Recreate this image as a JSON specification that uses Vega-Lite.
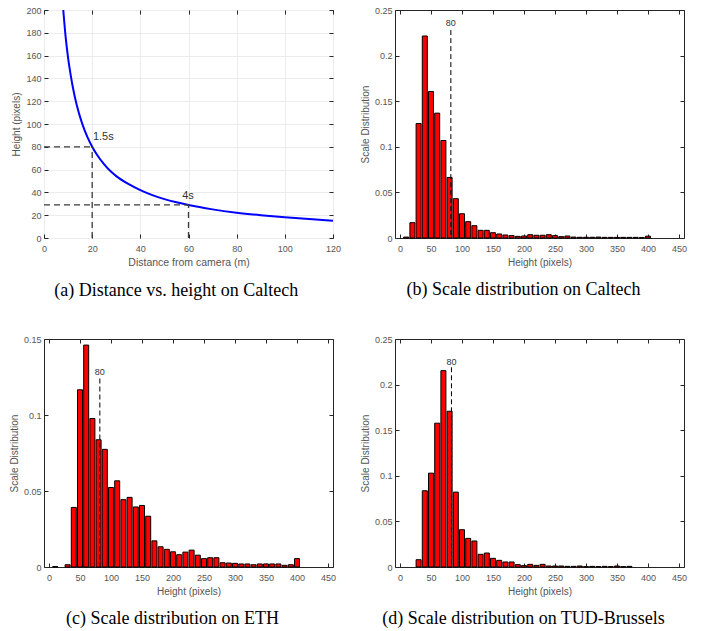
{
  "$schema": "https://vega.github.io/schema/vega-lite/v6.json",
  "padding": {"left": 8, "top": 5, "right": 5, "bottom": 5},
  "background": "white",
  "columns": 2,
  "bounds": "flush",
  "spacing": {"row": 101, "column": 62},
  "config": {
    "view": {"stroke": "#262626", "strokeWidth": 1},
    "font": "Liberation Sans",
    "axis": {
      "labelFont": "Liberation Sans", "labelFontSize": 9, "labelColor": "#555555",
      "titleFont": "Liberation Sans", "titleFontSize": 10, "titleFontWeight": "normal", "titleColor": "#555555",
      "domain": false, "tickColor": "#262626", "tickSize": -4, "tickWidth": 1,
      "grid": false, "titlePadding": 4, "labelFlush": false, "labelOverlap": false
    },
    "axisX": {"labelPadding": 10},
    "axisY": {"labelPadding": 7},
    "title": {"font": "Liberation Serif", "fontSize": 18, "fontWeight": "normal", "color": "#000000", "orient": "bottom", "frame": "bounds", "anchor": "middle", "offset": 14}
  },
  "datasets": {
    "curveA": [
      {"distance": 8, "height": 200}, {"distance": 9, "height": 176}, {"distance": 10, "height": 158},
      {"distance": 11, "height": 144}, {"distance": 12, "height": 132}, {"distance": 13, "height": 122},
      {"distance": 14, "height": 113.4}, {"distance": 15, "height": 106}, {"distance": 16, "height": 99.5},
      {"distance": 18, "height": 88.7}, {"distance": 20, "height": 80}, {"distance": 22, "height": 73},
      {"distance": 25, "height": 64.6}, {"distance": 28, "height": 57.8}, {"distance": 30, "height": 54.3},
      {"distance": 35, "height": 47.4}, {"distance": 40, "height": 42}, {"distance": 45, "height": 37.6},
      {"distance": 50, "height": 34.1}, {"distance": 55, "height": 31.3}, {"distance": 60, "height": 28.9},
      {"distance": 70, "height": 25.1}, {"distance": 80, "height": 22.2}, {"distance": 90, "height": 20},
      {"distance": 100, "height": 18.2}, {"distance": 110, "height": 16.6}, {"distance": 120, "height": 15.2}
    ],
    "segsA": [
      {"x1": 0, "x2": 20, "y1": 80, "y2": 80},
      {"x1": 20, "x2": 20, "y1": 0, "y2": 80},
      {"x1": 0, "x2": 60, "y1": 29, "y2": 29},
      {"x1": 60, "x2": 60, "y1": 0, "y2": 29}
    ],
    "labelsA": [
      {"x": 20.3, "y": 89, "label": "1.5s"},
      {"x": 57.4, "y": 37, "label": "4s"}
    ],
    "histB": [
      {"h": 10, "p": 0.001}, {"h": 20, "p": 0.0168}, {"h": 30, "p": 0.1255}, {"h": 40, "p": 0.2215},
      {"h": 50, "p": 0.1606}, {"h": 60, "p": 0.1369}, {"h": 70, "p": 0.1069}, {"h": 80, "p": 0.0664},
      {"h": 90, "p": 0.0431}, {"h": 100, "p": 0.0266}, {"h": 110, "p": 0.0179}, {"h": 120, "p": 0.0135},
      {"h": 130, "p": 0.0084}, {"h": 140, "p": 0.0084}, {"h": 150, "p": 0.0058}, {"h": 160, "p": 0.0044},
      {"h": 170, "p": 0.0033}, {"h": 180, "p": 0.0026}, {"h": 190, "p": 0.0018}, {"h": 200, "p": 0.0022},
      {"h": 210, "p": 0.0036}, {"h": 220, "p": 0.003}, {"h": 230, "p": 0.003}, {"h": 240, "p": 0.0036},
      {"h": 250, "p": 0.0026}, {"h": 260, "p": 0.0015}, {"h": 270, "p": 0.0022}, {"h": 280, "p": 0.001},
      {"h": 290, "p": 0.0008}, {"h": 300, "p": 0.0008}, {"h": 310, "p": 0.0008}, {"h": 320, "p": 0.001},
      {"h": 330, "p": 0.0007}, {"h": 340, "p": 0.0007}, {"h": 350, "p": 0.0007}, {"h": 360, "p": 0.0007},
      {"h": 370, "p": 0.0007}, {"h": 380, "p": 0.0007}, {"h": 390, "p": 0.0005}, {"h": 400, "p": 0.002}
    ],
    "histC": [
      {"h": 10, "p": 0.0003}, {"h": 30, "p": 0.0015}, {"h": 40, "p": 0.0392}, {"h": 50, "p": 0.1166},
      {"h": 60, "p": 0.146}, {"h": 70, "p": 0.0977}, {"h": 80, "p": 0.0837}, {"h": 90, "p": 0.0774},
      {"h": 100, "p": 0.0523}, {"h": 110, "p": 0.0567}, {"h": 120, "p": 0.0443}, {"h": 130, "p": 0.0458},
      {"h": 140, "p": 0.0395}, {"h": 150, "p": 0.0405}, {"h": 160, "p": 0.0334}, {"h": 170, "p": 0.0172},
      {"h": 180, "p": 0.0133}, {"h": 190, "p": 0.0116}, {"h": 200, "p": 0.01}, {"h": 210, "p": 0.0081},
      {"h": 220, "p": 0.0098}, {"h": 230, "p": 0.0111}, {"h": 240, "p": 0.0078}, {"h": 250, "p": 0.0055},
      {"h": 260, "p": 0.0061}, {"h": 270, "p": 0.0061}, {"h": 280, "p": 0.0028}, {"h": 290, "p": 0.0026},
      {"h": 300, "p": 0.0024}, {"h": 310, "p": 0.002}, {"h": 320, "p": 0.002}, {"h": 330, "p": 0.0015},
      {"h": 340, "p": 0.002}, {"h": 350, "p": 0.002}, {"h": 360, "p": 0.002}, {"h": 370, "p": 0.002},
      {"h": 380, "p": 0.0011}, {"h": 390, "p": 0.0015}, {"h": 400, "p": 0.0055}
    ],
    "histD": [
      {"h": 30, "p": 0.008}, {"h": 40, "p": 0.0836}, {"h": 50, "p": 0.1029}, {"h": 60, "p": 0.1577},
      {"h": 70, "p": 0.2153}, {"h": 80, "p": 0.1708}, {"h": 90, "p": 0.0821}, {"h": 100, "p": 0.0409},
      {"h": 110, "p": 0.0314}, {"h": 120, "p": 0.0285}, {"h": 130, "p": 0.0139}, {"h": 140, "p": 0.0153},
      {"h": 150, "p": 0.0095}, {"h": 160, "p": 0.0073}, {"h": 170, "p": 0.0055}, {"h": 180, "p": 0.0055},
      {"h": 190, "p": 0.0026}, {"h": 200, "p": 0.0015}, {"h": 210, "p": 0.0029}, {"h": 220, "p": 0.0018},
      {"h": 230, "p": 0.0029}, {"h": 240, "p": 0.0011}, {"h": 250, "p": 0.0011}, {"h": 260, "p": 0.0011},
      {"h": 270, "p": 0.0007}, {"h": 280, "p": 0.0007}, {"h": 290, "p": 0.0011}, {"h": 300, "p": 0.0004},
      {"h": 310, "p": 0.0007}, {"h": 320, "p": 0.0004}, {"h": 330, "p": 0.0007}, {"h": 340, "p": 0.0004},
      {"h": 350, "p": 0.0011}, {"h": 360, "p": 0.0004}, {"h": 370, "p": 0.0007}
    ],
    "markB": [{"x": 82, "top": 0.228, "ly": 0.236, "label": "80"}],
    "markC": [{"x": 82, "top": 0.124, "ly": 0.1286, "label": "80"}],
    "markD": [{"x": 83, "top": 0.219, "ly": 0.2245, "label": "80"}]
  },
  "concat": [
    {
      "width": 289, "height": 228,
      "title": {"text": "(a) Distance vs. height on Caltech"},
      "resolve": {"axis": {"x": "independent", "y": "independent"}},
      "layer": [
        {
          "data": {"name": "curveA"},
          "mark": {"type": "line", "color": "#0000ff", "strokeWidth": 2, "interpolate": "monotone", "clip": true},
          "encoding": {
            "x": {"field": "distance", "type": "quantitative", "scale": {"domain": [0, 120], "nice": false},
                  "axis": {"orient": "bottom", "title": "Distance from camera (m)", "titleFontSize": 10.5, "values": [0, 20, 40, 60, 80, 100, 120], "grid": true, "gridColor": "#ebebeb"}},
            "y": {"field": "height", "type": "quantitative", "scale": {"domain": [0, 200], "nice": false},
                  "axis": {"orient": "left", "title": "Height (pixels)", "values": [0, 20, 40, 60, 80, 100, 120, 140, 160, 180, 200], "grid": true, "gridColor": "#ebebeb"}}
          }
        },
        {
          "data": {"name": "segsA"},
          "mark": {"type": "rule", "color": "#3a3a3a", "strokeDash": [6, 4], "strokeWidth": 1.3},
          "encoding": {
            "x": {"field": "x1", "type": "quantitative", "axis": {"orient": "top", "labels": false, "title": null, "values": [0, 20, 40, 60, 80, 100, 120]}},
            "x2": {"field": "x2"},
            "y": {"field": "y1", "type": "quantitative", "axis": {"orient": "right", "labels": false, "title": null, "values": [0, 20, 40, 60, 80, 100, 120, 140, 160, 180, 200]}},
            "y2": {"field": "y2"}
          }
        },
        {
          "data": {"name": "labelsA"},
          "mark": {"type": "text", "align": "left", "baseline": "middle", "fontSize": 11, "color": "#333333", "font": "Liberation Sans"},
          "encoding": {
            "x": {"field": "x", "type": "quantitative", "axis": null},
            "y": {"field": "y", "type": "quantitative", "axis": null},
            "text": {"field": "label"}
          }
        }
      ]
    },
    {
      "width": 289, "height": 228,
      "title": {"text": "(b) Scale distribution on Caltech"},
      "resolve": {"axis": {"x": "independent", "y": "independent"}},
      "layer": [
        {
          "data": {"name": "histB"},
          "mark": {"type": "bar", "color": "#ff0000", "stroke": "#000000", "strokeWidth": 1, "width": 5},
          "encoding": {
            "x": {"field": "h", "type": "quantitative", "scale": {"domain": [0, 450], "nice": false},
                  "axis": {"orient": "bottom", "title": "Height (pixels)", "values": [0, 50, 100, 150, 200, 250, 300, 350, 400, 450]}},
            "y": {"field": "p", "type": "quantitative", "scale": {"domain": [0, 0.25], "nice": false},
                  "axis": {"orient": "left", "title": "Scale Distribution", "values": [0, 0.05, 0.1, 0.15, 0.2, 0.25], "format": ".2~f"}}
          }
        },
        {
          "data": {"name": "markB"},
          "mark": {"type": "rule", "color": "#000000", "strokeDash": [5, 3], "strokeWidth": 1},
          "encoding": {
            "x": {"field": "x", "type": "quantitative", "axis": {"orient": "top", "labels": false, "title": null, "values": [0, 50, 100, 150, 200, 250, 300, 350, 400, 450]}},
            "y": {"field": "top", "type": "quantitative", "axis": {"orient": "right", "labels": false, "title": null, "values": [0, 0.05, 0.1, 0.15, 0.2, 0.25]}},
            "y2": {"datum": 0}
          }
        },
        {
          "data": {"name": "markB"},
          "mark": {"type": "text", "align": "center", "baseline": "middle", "fontSize": 9, "color": "#333333", "font": "Liberation Sans"},
          "encoding": {
            "x": {"field": "x", "type": "quantitative", "axis": null},
            "y": {"field": "ly", "type": "quantitative", "axis": null},
            "text": {"field": "label"}
          }
        }
      ]
    },
    {
      "width": 289, "height": 228,
      "title": {"text": "(c) Scale distribution on ETH"},
      "resolve": {"axis": {"x": "independent", "y": "independent"}},
      "layer": [
        {
          "data": {"name": "histC"},
          "mark": {"type": "bar", "color": "#ff0000", "stroke": "#000000", "strokeWidth": 1, "width": 5},
          "encoding": {
            "x": {"field": "h", "type": "quantitative", "scale": {"domain": [0, 450], "nice": false},
                  "axis": {"orient": "bottom", "title": "Height (pixels)", "values": [0, 50, 100, 150, 200, 250, 300, 350, 400, 450]}},
            "y": {"field": "p", "type": "quantitative", "scale": {"domain": [0, 0.15], "nice": false},
                  "axis": {"orient": "left", "title": "Scale Distribution", "values": [0, 0.05, 0.1, 0.15], "format": ".2~f"}}
          }
        },
        {
          "data": {"name": "markC"},
          "mark": {"type": "rule", "color": "#000000", "strokeDash": [5, 3], "strokeWidth": 1},
          "encoding": {
            "x": {"field": "x", "type": "quantitative", "axis": {"orient": "top", "labels": false, "title": null, "values": [0, 50, 100, 150, 200, 250, 300, 350, 400, 450]}},
            "y": {"field": "top", "type": "quantitative", "axis": {"orient": "right", "labels": false, "title": null, "values": [0, 0.05, 0.1, 0.15]}},
            "y2": {"datum": 0}
          }
        },
        {
          "data": {"name": "markC"},
          "mark": {"type": "text", "align": "center", "baseline": "middle", "fontSize": 9, "color": "#333333", "font": "Liberation Sans"},
          "encoding": {
            "x": {"field": "x", "type": "quantitative", "axis": null},
            "y": {"field": "ly", "type": "quantitative", "axis": null},
            "text": {"field": "label"}
          }
        }
      ]
    },
    {
      "width": 289, "height": 228,
      "title": {"text": "(d) Scale distribution on TUD-Brussels"},
      "resolve": {"axis": {"x": "independent", "y": "independent"}},
      "layer": [
        {
          "data": {"name": "histD"},
          "mark": {"type": "bar", "color": "#ff0000", "stroke": "#000000", "strokeWidth": 1, "width": 5},
          "encoding": {
            "x": {"field": "h", "type": "quantitative", "scale": {"domain": [0, 450], "nice": false},
                  "axis": {"orient": "bottom", "title": "Height (pixels)", "values": [0, 50, 100, 150, 200, 250, 300, 350, 400, 450]}},
            "y": {"field": "p", "type": "quantitative", "scale": {"domain": [0, 0.25], "nice": false},
                  "axis": {"orient": "left", "title": "Scale Distribution", "values": [0, 0.05, 0.1, 0.15, 0.2, 0.25], "format": ".2~f"}}
          }
        },
        {
          "data": {"name": "markD"},
          "mark": {"type": "rule", "color": "#000000", "strokeDash": [5, 3], "strokeWidth": 1},
          "encoding": {
            "x": {"field": "x", "type": "quantitative", "axis": {"orient": "top", "labels": false, "title": null, "values": [0, 50, 100, 150, 200, 250, 300, 350, 400, 450]}},
            "y": {"field": "top", "type": "quantitative", "axis": {"orient": "right", "labels": false, "title": null, "values": [0, 0.05, 0.1, 0.15, 0.2, 0.25]}},
            "y2": {"datum": 0}
          }
        },
        {
          "data": {"name": "markD"},
          "mark": {"type": "text", "align": "center", "baseline": "middle", "fontSize": 9, "color": "#333333", "font": "Liberation Sans"},
          "encoding": {
            "x": {"field": "x", "type": "quantitative", "axis": null},
            "y": {"field": "ly", "type": "quantitative", "axis": null},
            "text": {"field": "label"}
          }
        }
      ]
    }
  ]
}
